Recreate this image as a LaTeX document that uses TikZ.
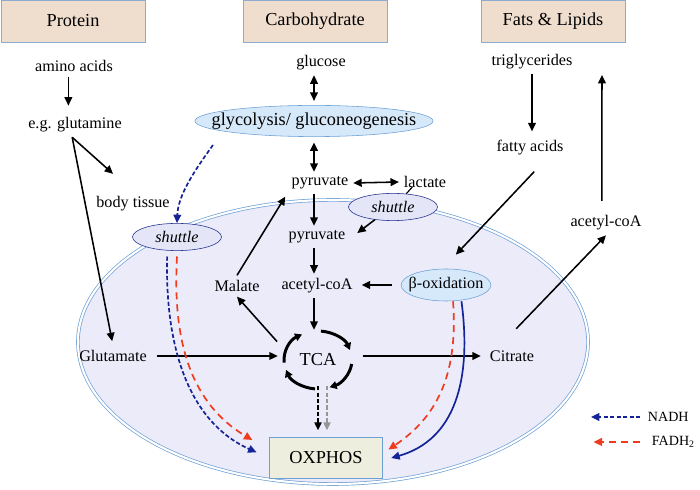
\documentclass[tikz,border=0pt]{standalone}
\usepackage{fontspec}
\setmainfont{Liberation Serif}
\usetikzlibrary{positioning,arrows.meta,shapes.geometric}

\definecolor{headfill}{RGB}{239,221,205}
\definecolor{headedge}{RGB}{140,170,210}
\definecolor{glycofill}{RGB}{214,233,250}
\definecolor{glycoedge}{RGB}{110,160,212}
\definecolor{mitofill}{RGB}{235,235,250}
\definecolor{mitoedge}{RGB}{110,160,212}
\definecolor{shuttlefill}{RGB}{228,230,248}
\definecolor{shuttleedge}{RGB}{30,45,140}
\definecolor{oxfill}{RGB}{238,238,222}
\definecolor{nadhblue}{RGB}{20,35,150}
\definecolor{fadhred}{RGB}{240,60,30}
\definecolor{tcagray}{RGB}{150,150,150}

\tikzset{
  every node/.style={font=\rmfamily\fontsize{11.5}{13}\selectfont},
  bigtext/.style={font=\rmfamily\fontsize{13}{15}\selectfont},
  header/.style={bigtext, draw=headedge, fill=headfill, minimum width=3.6cm, minimum height=1.05cm},
  process/.style={ellipse, draw=glycoedge, fill=glycofill, inner ysep=0pt},
  shuttlebox/.style={ellipse, draw=shuttleedge, fill=shuttlefill, minimum width=2.225cm,
    minimum height=0.68cm, inner sep=0pt, font=\rmfamily\fontsize{11.5}{13}\selectfont\itshape},
  mito/.style={ellipse, draw=mitoedge, line width=0.5pt, double=white, double distance=1.5pt,
    fill=mitofill, minimum width=12.75cm, minimum height=7.1cm, inner sep=0pt},
  tca/.style={ellipse, bigtext, minimum width=2cm, minimum height=1.5cm, inner sep=0pt},
  oxbox/.style={bigtext, draw=glycoedge, fill=oxfill, minimum width=2.825cm, minimum height=1.025cm},
  keylabel/.style={font=\rmfamily\fontsize{10}{12}\selectfont},
  arr/.style={-{Triangle[length=6pt,width=5.5pt]}, line width=1.1pt},
  dblarr/.style={{Triangle[length=6pt,width=5.5pt]}-{Triangle[length=6pt,width=5.5pt]}, line width=1.1pt},
  tcaarc/.style={-{Triangle[length=5pt,width=5.5pt]}, line width=2.1pt},
  tcadash/.style={-{Triangle[length=5.5pt,width=5pt]}, line width=1.2pt, dash pattern=on 3pt off 1.6pt},
  nadh/.style={nadhblue, line width=1.2pt, dash pattern=on 3pt off 1.6pt, -{Triangle[length=6pt,width=5.5pt]}},
  nadhsolid/.style={nadhblue, line width=1.2pt, -{Triangle[length=6pt,width=5.5pt]}},
  fadh/.style={fadhred, line width=1.2pt, dash pattern=on 5pt off 3.5pt, -{Triangle[length=6pt,width=5.5pt]}},
}

\begin{document}
\begin{tikzpicture}[x=0.025cm, y=-0.025cm]
\useasboundingbox (0,0) rectangle (700,490);

% food groups
\node[header] (protein) at (73,21) {Protein};
\node[header] (carbo) at (315,21) {Carbohydrate};
\node[header] (fats) at (553,21) {Fats \& Lipids};

% mitochondrion
\node[mito] (mito) at (333,342) {};

% protein side
\node (amino) at (74,66) {amino acids};
\node (glutamine) at (75,125) {e.g. glutamine};
\node (tissue) at (133,204) {body tissue};
\node (glutamate) at (113,356) {Glutamate};

% carbohydrate side
\node (glucose) at (321,63) {glucose};
\node[process, bigtext, minimum width=5.95cm, minimum height=0.78cm, inner xsep=-16pt] (glyco) at (314,121) {glycolysis/ gluconeogenesis};
\node (pyrout) at (320,183) {pyruvate};
\node (lactate) at (425,182) {lactate};
\node[shuttlebox] (shuttleR) at (393,207) {shuttle};
\node (pyrin) at (317,237) {pyruvate};
\node (acetyl) at (317,286) {acetyl-coA};
\node (malate) at (237,286) {Malate};
\node[shuttlebox] (shuttleL) at (177,237) {shuttle};

% fats side
\node (trigly) at (532,62) {triglycerides};
\node (fatty) at (530,148) {fatty acids};
\node[process, minimum width=2.225cm, minimum height=0.8cm, inner xsep=-4pt] (betaox) at (446,285) {β-oxidation};
\node (acetylout) at (606,223) {acetyl-coA};

% TCA and OXPHOS
\node[tca] (tca) at (318,360) {TCA};
\node (citrate) at (512,356) {Citrate};
\node[oxbox] (oxphos) at (326,458) {OXPHOS};

% legend
\node[keylabel, anchor=west] (nadhkey) at (643,417) {NADH};
\node[keylabel, anchor=west] (fadhkey) at (647,442) {FADH\textsubscript{2}};
\coordinate[left=2pt of nadhkey.west] (nadhtail);
\coordinate[left=37pt of nadhkey.west] (nadhtip);
\coordinate[left=5pt of fadhkey.west] (fadhtail);
\coordinate[left=38pt of fadhkey.west] (fadhtip);

\coordinate (col) at (314,0);
\coordinate (fork) at ([xshift=-2pt]glutamine.south);
\coordinate (glycoexit) at (213,145);
\coordinate (fatsin) at (602,75);

% protein arrows
\draw[arr, shorten >=5pt] ([xshift=-4pt]amino.south) -- ([xshift=-4pt]amino.south |- glutamine.north);
\draw[arr, shorten >=19pt] (fork) -- (tissue.north);
\draw[arr, shorten >=3pt] (fork) -- (glutamate.north);

% carbohydrate arrows
\draw[dblarr, shorten >=3pt] (glucose.south -| col) -- (glyco.north -| col);
\draw[dblarr, shorten <=4pt] (glyco.south -| col) -- (pyrout.north -| col);
\draw[dblarr] (pyrout.east) -- (lactate.west);
\draw[line width=0.8pt] ([xshift=-9pt,yshift=4pt]lactate.south) -- (shuttleR.45);
\draw[arr] (shuttleR.215) -- ([xshift=5pt,yshift=2.8pt]pyrin.east);
\draw[arr] (pyrout.south -| col) -- (pyrin.north -| col);
\draw[arr] (pyrin.south -| col) -- (acetyl.north -| col);
\draw[arr] (acetyl.south -| col) -- (tca.north -| col);
\draw[arr, shorten >=2pt] (malate.north) -- (pyrout.south west);
\draw[arr, shorten <=5pt] (tca.160) -- (malate.south);

% fats arrows
\draw[arr, shorten >=3pt] (trigly.south) -- (trigly.south |- fatty.north);
\draw[arr] ([xshift=3pt,yshift=-8pt]fatty.south) -- ([xshift=7pt,yshift=10pt]betaox.north);
\draw[arr, shorten <=6pt, shorten >=3pt] (betaox.west) -- (betaox.west -| acetyl.east);
\draw[arr] ([xshift=3pt,yshift=12pt]citrate.north) -- (acetylout.south);
\draw[arr] ([xshift=-3pt,yshift=7pt]acetylout.north) -- (fatsin);

% through the cycle
\draw[arr, shorten <=4pt] (glutamate.east) -- (glutamate.east -| tca.west);
\draw[arr, shorten <=3pt, shorten >=3pt] (glutamate.east -| tca.east) -- (glutamate.east -| citrate.west);
\foreach \from/\to in {-185/-118, -85/-20, 8/70, 95/160}
  \draw[tcaarc] (tca.center) ++(\from:34 and 29) arc[start angle=\from, end angle=\to, x radius=34, y radius=29];
\draw[tcadash, shorten >=5pt] ([yshift=3pt]tca.south) -- (tca.south |- oxphos.north);
\draw[tcadash, tcagray, shorten >=5pt] ([xshift=6.4pt,yshift=3pt]tca.south) -- ([xshift=6.4pt]tca.south |- oxphos.north);

% electron carriers
\draw[nadh] (glycoexit) .. controls (195,170) and (178,195) .. (shuttleL.north);
\draw[nadh] ([xshift=-7pt,yshift=-4pt]shuttleL.south) .. controls (165,340) and (185,420) .. ([xshift=-9pt,yshift=4pt]oxphos.west);
\draw[fadh] ([yshift=-4pt]shuttleL.south) .. controls (173,330) and (185,400) .. ([xshift=-12pt,yshift=-2pt]oxphos.north west);
\draw[fadh] ([xshift=5pt]betaox.south) .. controls (458,370) and (440,415) .. ([xshift=4pt,yshift=6pt]oxphos.east);
\draw[nadhsolid] ([xshift=11pt]betaox.south) .. controls (472,380) and (455,440) .. ([xshift=6pt]oxphos.east);

% legend
\draw[nadh] (nadhtail) -- (nadhtip);
\draw[fadh] (fadhtail) -- (fadhtip);
\end{tikzpicture}
\end{document}
